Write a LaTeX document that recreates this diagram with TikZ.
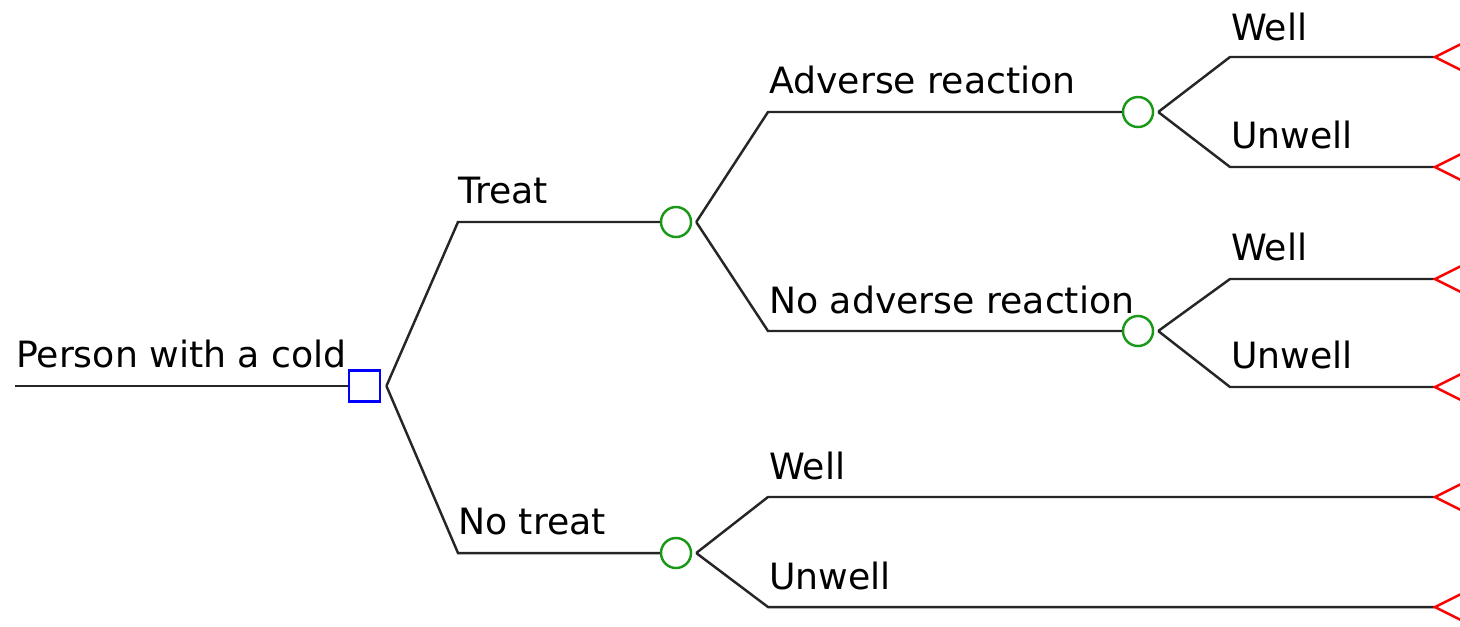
\documentclass[tikz,border=0pt]{standalone}
\usepackage{fontspec}
\setmainfont{DejaVu Sans}
\begin{document}
\begin{tikzpicture}[x=0.01cm,y=-0.01cm,
  line width=0.7pt,
  branch/.style={draw=black!85, line width=0.7pt},
  decision/.style={draw=blue, line width=0.8pt, rectangle, minimum size=0.31cm, inner sep=0pt},
  chance/.style={draw=green!55!black!90, line width=0.7pt, circle, minimum size=0.30cm, inner sep=0pt},
  term/.style={draw=red, line width=0.7pt},
  lbl/.style={anchor=base west, inner sep=0pt, font=\fontsize{10.3}{12}\selectfont}]
\useasboundingbox (0,0) rectangle (1460,626);
\clip (0,0) rectangle (1460,626);
% nodes
\coordinate (r0) at (15,386);
\node[decision] (sq) at (364.5,386) {};
\node[chance] (c1) at (676,222) {};
\node[chance] (c2) at (676,553) {};
\node[chance] (c3) at (1138,112) {};
\node[chance] (c4) at (1138,331) {};
% fork points
\coordinate (fsq) at ([xshift=0.05cm]sq.east);
\coordinate (fc1) at ([xshift=0.04cm]c1.east);
\coordinate (fc2) at ([xshift=0.04cm]c2.east);
\coordinate (fc3) at ([xshift=0.04cm]c3.east);
\coordinate (fc4) at ([xshift=0.04cm]c4.east);
% kinks
\coordinate (kT) at (458,222);
\coordinate (kN) at (458,553);
\coordinate (kA) at (768,112);
\coordinate (kB) at (768,331);
\coordinate (kW1) at (1230,57);
\coordinate (kU1) at (1230,167);
\coordinate (kW2) at (1230,279);
\coordinate (kU2) at (1230,387);
\coordinate (kW3) at (768,497);
\coordinate (kU3) at (768,607);
% terminals
\coordinate (t1) at (1435,57);
\coordinate (t2) at (1435,167);
\coordinate (t3) at (1435,279);
\coordinate (t4) at (1435,387);
\coordinate (t5) at (1435,497);
\coordinate (t6) at (1435,607);
% connectors
\draw[branch] (r0) -- (sq);
\draw[branch] (fsq) -- (kT) -- (c1);
\draw[branch] (fsq) -- (kN) -- (c2);
\draw[branch] (fc1) -- (kA) -- (c3);
\draw[branch] (fc1) -- (kB) -- (c4);
\draw[branch] (fc3) -- (kW1) -- (t1);
\draw[branch] (fc3) -- (kU1) -- (t2);
\draw[branch] (fc4) -- (kW2) -- (t3);
\draw[branch] (fc4) -- (kU2) -- (t4);
\draw[branch] (fc2) -- (kW3) -- (t5);
\draw[branch] (fc2) -- (kU3) -- (t6);
% terminal triangles
\foreach \t in {t1,t2,t3,t4,t5,t6}{
  \draw[term] ([shift={(30,-15)}]\t) -- (\t) -- ([shift={(30,15)}]\t);
}
% labels
\node[lbl] (lP) at (15,367) {Person with a cold};
\node[lbl] (lT) at (457,203) {Treat};
\node[lbl] (lN) at (457,534) {No treat};
\node[lbl] (lA) at (768,93) {Adverse reaction};
\node[lbl] (lB) at (768,313) {No adverse reaction};
\node[lbl] (lW1) at (1230,40) {Well};
\node[lbl] (lU1) at (1230,148) {Unwell};
\node[lbl] (lW2) at (1230,260) {Well};
\node[lbl] (lU2) at (1230,368) {Unwell};
\node[lbl] (lW3) at (768,479) {Well};
\node[lbl] (lU3) at (768,589) {Unwell};
\end{tikzpicture}
\end{document}
